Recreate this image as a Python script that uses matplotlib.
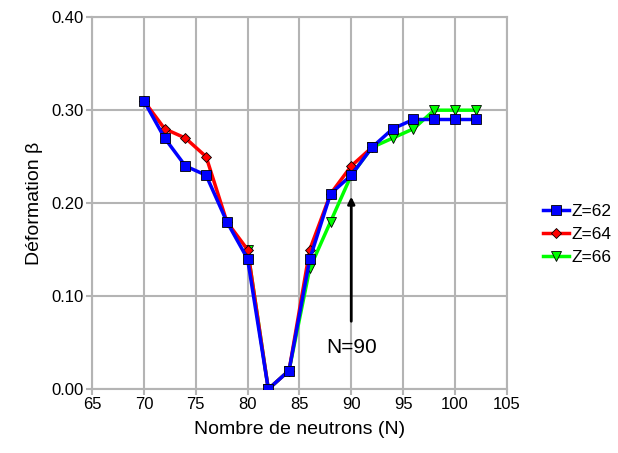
import matplotlib
matplotlib.use("Agg")
import matplotlib.pyplot as plt

plt.rcParams['font.family'] = ['Liberation Sans', 'DejaVu Sans']

# Deformation data.
n62 = [70, 72, 74, 76, 78, 80, 82, 84, 86, 88, 90, 92, 94, 96, 98, 100, 102]
b62 = [0.31, 0.27, 0.24, 0.23, 0.18, 0.14, 0.00, 0.02, 0.14, 0.21, 0.23, 0.26, 0.28, 0.29, 0.29, 0.29, 0.29]
n64 = [70, 72, 74, 76, 78, 80, 82, 84, 86, 88, 90, 92]
b64 = [0.31, 0.28, 0.27, 0.25, 0.18, 0.15, 0.00, 0.02, 0.15, 0.21, 0.24, 0.26]
n66 = [80, 82, 84, 86, 88, 90, 92, 94, 96, 98, 100, 102]
b66 = [0.15, 0.00, 0.02, 0.13, 0.18, 0.23, 0.26, 0.27, 0.28, 0.30, 0.30, 0.30]

xticks = [65, 70, 75, 80, 85, 90, 95, 100, 105]
yticks = [0.0, 0.1, 0.2, 0.3, 0.4]

fig = plt.figure(figsize=(6.18, 4.53), dpi=100)
ax = fig.add_axes([0.149, 0.141, 0.671, 0.821])

grey = '#b4b4b4'
ax.plot(n66, b66, color='#00ff00', lw=2.5, marker='v', ms=7, mfc='#00ff00', mec='black', mew=0.6, label='Z=66', zorder=3)
ax.plot(n64, b64, color='#ff0000', lw=2.5, marker='D', ms=5, mfc='#ff0000', mec='black', mew=0.6, label='Z=64', zorder=4)
ax.plot(n62, b62, color='#0000ff', lw=2.5, marker='s', ms=7, mfc='#0000ff', mec='black', mew=0.6, label='Z=62', zorder=5)

ax.annotate('', xy=(90, 0.21), xytext=(90, 0.07),
            arrowprops=dict(arrowstyle='-|>', color='black', lw=2, mutation_scale=10))
ax.text(90, 0.045, 'N=90', ha='center', va='center', fontsize=15)

ax.set_xlim(65, 105)
ax.set_ylim(0, 0.4)
ax.set_xticks(xticks)
ax.set_yticks(yticks)
ax.set_yticklabels(['%.2f' % v for v in yticks])
ax.grid(True, color=grey, lw=1.5)
ax.set_axisbelow(True)
for s in ax.spines.values():
    s.set_color(grey)
    s.set_linewidth(1.5)
ax.tick_params(length=4, width=1.5, color=grey, labelsize=12, pad=2)

ax.set_xlabel('Nombre de neutrons (N)', fontsize=14, labelpad=6)
ax.set_ylabel('Déformation β', fontsize=14, labelpad=6)

h, l = ax.get_legend_handles_labels()
ax.legend(h[::-1], l[::-1], loc='center left', bbox_to_anchor=(1.05, 0.415),
          frameon=False, fontsize=12.5, handlelength=1.5, handletextpad=0.15, labelspacing=0.45)

fig.savefig('out.png', dpi=100)
